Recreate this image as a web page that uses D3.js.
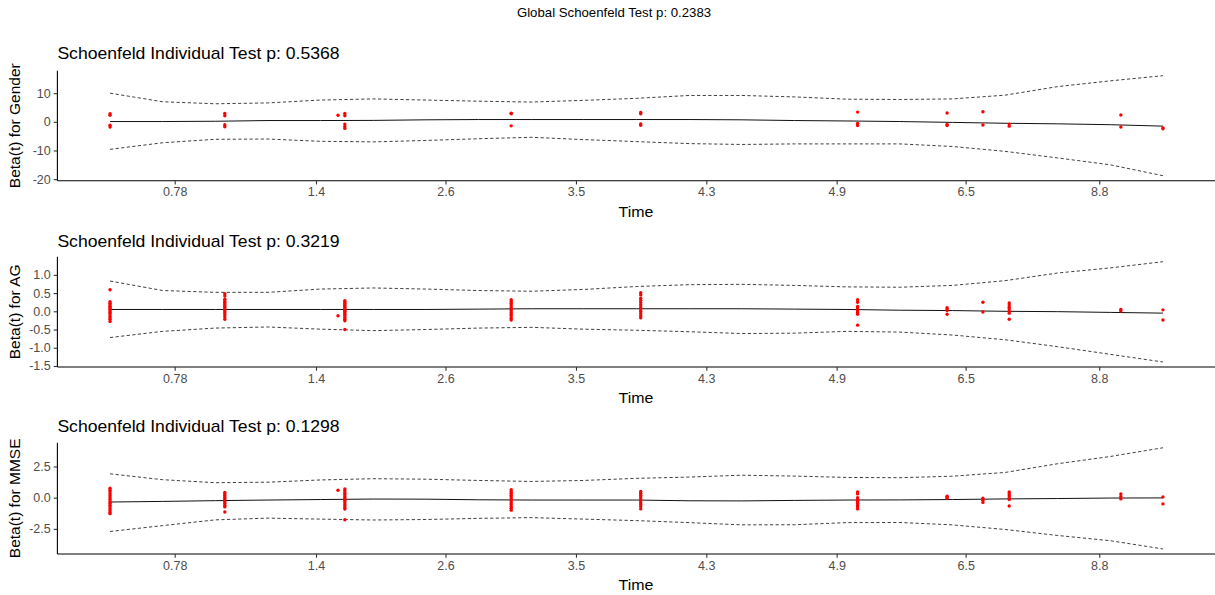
<!DOCTYPE html>
<html>
<head>
<meta charset="utf-8">
<script src="https://cdn.jsdelivr.net/npm/d3@7"></script>
<style>
  html, body { margin: 0; padding: 0; background: #ffffff; }
  svg { display: block; font-family: "Liberation Sans", Arial, sans-serif; }
</style>
</head>
<body>
<svg id="chart" width="1215" height="595"></svg>
<script>
// Transformed (KM-scale) event times of the distinct event columns
const eventU = [0, 0.109, 0.2165, 0.223, 0.381, 0.504, 0.710, 0.795, 0.829, 0.854, 0.960, 1];

// Scaled Schoenfeld residuals, one inner array per event column
const genderResid = [
  [2.8, 2.3, -1.2, -1.8],
  [2.9, 2.1, -1.0, -1.7],
  [2.3],
  [2.9, 2.1, -0.8, -1.6, -2.3],
  [3.0, 2.8, -1.4],
  [3.3, 2.8, -0.7, -1.2],
  [3.4, -0.6, -1.3],
  [3.1, -0.9, -1.3],
  [3.5, -1.1],
  [-0.8, -1.5],
  [2.4, -1.8],
  [-2.1, -2.4]
];
const agResid = [
  [0.59, 0.26, 0.22, 0.18, 0.14, 0.10, 0.07, 0.04, 0.01, -0.03, -0.07, -0.12, -0.17, -0.22, -0.28],
  [0.48, 0.42, 0.33, 0.29, 0.25, 0.21, 0.17, 0.13, 0.09, 0.05, 0.01, -0.04, -0.09, -0.15, -0.22],
  [-0.12],
  [0.29, 0.26, 0.22, 0.18, 0.15, 0.12, 0.09, 0.06, 0.03, 0.0, -0.04, -0.08, -0.12, -0.17, -0.22, -0.26, -0.50],
  [0.32, 0.27, 0.22, 0.17, 0.12, 0.07, 0.02, -0.03, -0.08, -0.13, -0.19, -0.24],
  [0.51, 0.45, 0.36, 0.30, 0.24, 0.18, 0.12, 0.06, 0.0, -0.06, -0.12, -0.18],
  [0.32, 0.25, 0.13, 0.09, 0.05, 0.01, -0.03, -0.08, -0.38],
  [0.10, 0.06, 0.02, -0.08],
  [0.25, -0.02],
  [0.23, 0.17, 0.11, 0.06, 0.0, -0.05, -0.22],
  [0.05, 0.01],
  [0.04, -0.24]
];
const mmseResid = [
  [0.75, 0.6, 0.45, 0.3, 0.15, 0.0, -0.15, -0.3, -0.45, -0.6, -0.75, -0.9, -1.05, -1.2, -1.28],
  [0.42, 0.3, 0.18, 0.06, -0.06, -0.18, -0.3, -0.45, -0.6, -0.74, -1.15],
  [0.59],
  [0.7, 0.55, 0.4, 0.25, 0.1, -0.05, -0.2, -0.35, -0.5, -0.65, -0.8, -0.91, -1.77],
  [0.64, 0.5, 0.35, 0.2, 0.05, -0.1, -0.25, -0.4, -0.55, -0.7, -0.85, -1.0],
  [0.5, 0.35, 0.2, 0.05, -0.1, -0.25, -0.4, -0.55, -0.7, -0.9],
  [0.46, 0.3, 0.0, -0.15, -0.3, -0.45, -0.6, -0.75, -0.9],
  [0.12, 0.05, -0.05],
  [-0.05, -0.2, -0.38],
  [0.46, 0.32, 0.15, 0.0, -0.15, -0.67],
  [0.3, 0.1, -0.1],
  [0.06, -0.5]
];

// Spline fit of beta(t) and its confidence band, on a grid over transformed time
const fitU = [0, 0.05, 0.1, 0.15, 0.2, 0.25, 0.3, 0.35, 0.4, 0.45, 0.5, 0.55, 0.6, 0.65, 0.7, 0.75, 0.8, 0.85, 0.9, 0.95, 1];

const genderFit   = [0.1, 0.1, 0.2, 0.45, 0.45, 0.5, 0.7, 0.8, 0.8, 0.8, 0.8, 0.8, 0.7, 0.45, 0.3, 0.1, -0.2, -0.5, -0.7, -1.0, -1.5];
const genderUpper = [10.0, 7.0, 6.3, 6.6, 7.6, 8.0, 7.6, 7.2, 6.9, 7.5, 8.2, 9.2, 9.2, 8.7, 7.9, 7.8, 8.0, 9.3, 12.3, 14.3, 16.1];
const genderLower = [-9.6, -7.3, -6.1, -6.0, -6.8, -7.0, -6.5, -5.9, -5.4, -6.2, -6.9, -7.6, -7.9, -7.7, -7.7, -7.7, -8.6, -10.3, -12.6, -15.0, -18.8];

const agFit   = [0.05, 0.05, 0.05, 0.05, 0.05, 0.05, 0.05, 0.06, 0.07, 0.07, 0.07, 0.07, 0.07, 0.06, 0.05, 0.03, 0.02, 0.0, -0.01, -0.03, -0.05];
const agUpper = [0.83, 0.57, 0.52, 0.52, 0.61, 0.64, 0.61, 0.57, 0.55, 0.60, 0.68, 0.73, 0.74, 0.71, 0.67, 0.66, 0.71, 0.84, 1.05, 1.19, 1.36];
const agLower = [-0.72, -0.55, -0.46, -0.43, -0.49, -0.53, -0.50, -0.46, -0.44, -0.49, -0.52, -0.56, -0.61, -0.60, -0.55, -0.57, -0.65, -0.78, -0.97, -1.18, -1.39];

const mmseFit   = [-0.35, -0.3, -0.24, -0.19, -0.15, -0.11, -0.12, -0.17, -0.19, -0.19, -0.19, -0.25, -0.26, -0.22, -0.19, -0.18, -0.15, -0.1, -0.07, -0.03, -0.02];
const mmseUpper = [1.91, 1.44, 1.2, 1.24, 1.42, 1.52, 1.48, 1.38, 1.3, 1.38, 1.55, 1.65, 1.8, 1.73, 1.62, 1.6, 1.72, 2.02, 2.72, 3.3, 4.0];
const mmseLower = [-2.71, -2.24, -1.78, -1.64, -1.72, -1.79, -1.75, -1.66, -1.6, -1.72, -1.84, -2.0, -2.18, -2.17, -2.0, -1.99, -2.18, -2.55, -3.03, -3.45, -4.11];

// Time axis: break positions (transformed scale) and the original times they stand for
const timeTickU = [0.0614, 0.1956, 0.3186, 0.4425, 0.5663, 0.6901, 0.8126, 0.9395];
const timeTickLabels = ["0.78", "1.4", "2.6", "3.5", "4.3", "4.9", "6.5", "8.8"];

const covariates = ["Gender", "AG", "MMSE"];
const pValues = ["0.5368", "0.3219", "0.1298"];
const globalP = "0.2383";
const yTicks = [[-20, -10, 0, 10], [-1.5, -1.0, -0.5, 0.0, 0.5, 1.0], [-2.5, 0.0, 2.5]];
const yFormats = [".0f", ".1f", ".1f"];

const residuals = [genderResid, agResid, mmseResid];
const fits = [genderFit, agFit, mmseFit];
const uppers = [genderUpper, agUpper, mmseUpper];
const lowers = [genderLower, agLower, mmseLower];

// ---------- drawing ----------
const svg = d3.select("#chart");
const locale = d3.formatLocale({ decimal: ".", thousands: ",", grouping: [3], currency: ["", ""], minus: "-" });
const stretch = 1.1;   // slightly wide lettering for the horizontal labels

const plotLeft = 57.4, plotRight = 1215.6;
const panels = [
  { top: 70.7, bottom: 180.7, titleY: 59.3 },
  { top: 256.7, bottom: 367, titleY: 246.7 },
  { top: 442.7, bottom: 554, titleY: 432.3 }
];

// ggplot-style 5% expansion of the continuous range
function expand(lo, hi) { const d = (hi - lo) * 0.05; return [lo - d, hi + d]; }

// horizontally stretched text anchored at (tx, ty)
function wideText(parent, tx, ty, size, anchor, str) {
  return parent.append("text")
    .attr("transform", `translate(${tx},${ty}) scale(${stretch},1)`)
    .attr("text-anchor", anchor)
    .attr("font-size", size).attr("fill", "#000")
    .text(str);
}

wideText(svg, 614, 17, 12, "middle", "Global Schoenfeld Test p: " + globalP);

const uExt = d3.extent(eventU);
const x = d3.scaleLinear().domain(expand(uExt[0], uExt[1])).range([plotLeft, plotRight]);

panels.forEach((p, i) => {
  const g = svg.append("g");
  const allVals = residuals[i].flat().concat(uppers[i], lowers[i]);
  const ext = d3.extent(allVals);
  const y = d3.scaleLinear().domain(expand(ext[0], ext[1])).range([p.bottom, p.top]);

  // confidence band
  [uppers[i], lowers[i]].forEach(band => {
    g.append("path")
      .datum(fitU.map((u, k) => [u, band[k]]))
      .attr("fill", "none")
      .attr("stroke", "#000")
      .attr("stroke-width", 0.75)
      .attr("stroke-dasharray", "3.2,2.4")
      .attr("d", d3.line().x(d => x(d[0])).y(d => y(d[1])));
  });

  // fitted beta(t)
  g.append("path")
    .datum(fitU.map((u, k) => [u, fits[i][k]]))
    .attr("fill", "none")
    .attr("stroke", "#111")
    .attr("stroke-width", 1)
    .attr("d", d3.line().x(d => x(d[0])).y(d => y(d[1])));

  // residual points
  const pts = [];
  residuals[i].forEach((col, c) => col.forEach(v => pts.push([eventU[c], v])));
  g.selectAll("circle.pt").data(pts).join("circle")
    .attr("class", "pt")
    .attr("cx", d => x(d[0])).attr("cy", d => y(d[1]))
    .attr("r", 1.7).attr("fill", "#ff0000");

  // axes
  const xAxis = d3.axisBottom(x)
    .tickValues(timeTickU)
    .tickFormat((d, k) => timeTickLabels[k])
    .tickSize(3.7).tickPadding(3).tickSizeOuter(0);
  const xg = g.append("g").attr("transform", `translate(0,${p.bottom})`).call(xAxis);

  const yAxis = d3.axisLeft(y)
    .tickValues(yTicks[i])
    .tickFormat(locale.format(yFormats[i]))
    .tickSize(3.7).tickPadding(3).tickSizeOuter(0);
  const yg = g.append("g").attr("transform", `translate(${plotLeft},0)`).call(yAxis);

  [xg, yg].forEach(ax => {
    ax.select(".domain").attr("stroke", "#000").attr("stroke-width", 1.1);
    ax.selectAll(".tick line").attr("stroke", "#333333").attr("stroke-width", 1.1);
    ax.selectAll(".tick text").attr("fill", "#4d4d4d").attr("font-size", 12.5)
      .attr("font-family", "Liberation Sans, Arial, sans-serif");
  });
  yg.select(".domain").attr("d", `M0,${p.top}V${p.bottom}`);
  xg.select(".domain").attr("d", `M${plotLeft},0H${plotRight}`);

  // titles
  wideText(g, plotLeft, p.titleY, 16, "start", "Schoenfeld Individual Test p: " + pValues[i]);
  wideText(g, 636, p.bottom + 36, 14.5, "middle", "Time");

  g.append("text")
    .attr("transform", `translate(20,${(p.top + p.bottom) / 2}) rotate(-90)`)
    .attr("text-anchor", "middle")
    .attr("font-size", 15.5).attr("fill", "#000")
    .text("Beta(t) for " + covariates[i]);
});
</script>
</body>
</html>
